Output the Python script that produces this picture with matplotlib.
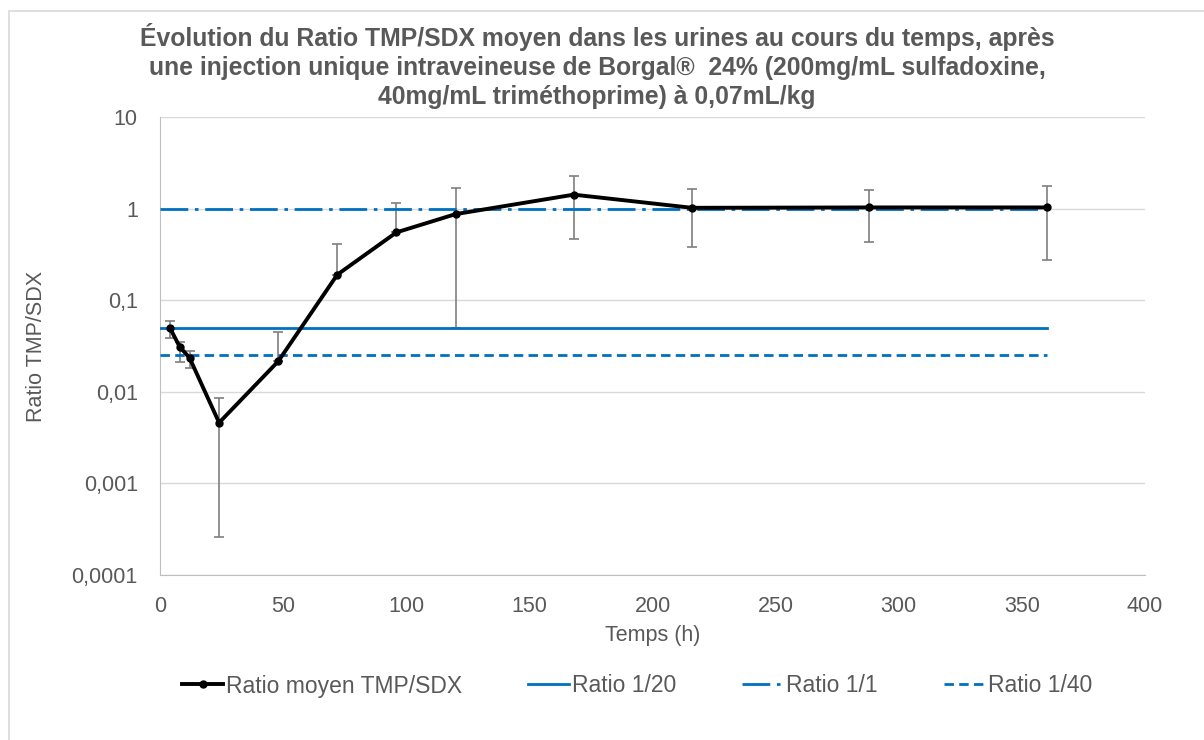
import numpy as np
import matplotlib.pyplot as plt
from matplotlib.patches import Rectangle
from matplotlib.ticker import FixedLocator, NullLocator

plt.rcParams['font.family'] = ['Liberation Sans', 'DejaVu Sans']

# mean TMP/SDX ratio in urine over time, with lower / upper error bounds
temps = [4, 8, 12, 24, 48, 72, 96, 120, 168, 216, 288, 360]
ratio_moyen = [0.050, 0.031, 0.0235, 0.0046, 0.0215, 0.19, 0.55, 0.87, 1.42, 1.02, 1.03, 1.03]
ratio_bas = [0.039, 0.021, 0.018, 0.00026, 0.0215, 0.19, 0.55, 0.05, 0.47, 0.385, 0.43, 0.277]
ratio_haut = [0.059, 0.035, 0.0277, 0.0086, 0.0445, 0.41, 1.15, 1.67, 2.29, 1.65, 1.6, 1.78]

# reference ratios drawn as flat lines from 0 to 360 h
ref_x = [0, 360]
ratio_1_20 = 1 / 20
ratio_1_1 = 1.0
ratio_1_40 = 1 / 40

yticks = [0.0001, 0.001, 0.01, 0.1, 1, 10]
ytick_labels = ['0,0001', '0,001', '0,01', '0,1', '1', '10']
xticks = [0, 50, 100, 150, 200, 250, 300, 350, 400]

gris = '#595959'
bleu = '#0070C0'

fig = plt.figure(figsize=(12.04, 7.40), dpi=100)
fig.patches.append(Rectangle((9 / 1204, -0.1), 1.2, 1 - 11 / 740 + 0.1,
                             transform=fig.transFigure, fill=False,
                             edgecolor='#d9d9d9', linewidth=1.2))

ax = fig.add_axes([160 / 1204, 1 - 575 / 740, (1145 - 160) / 1204, (575 - 117) / 740])

err = [np.array(ratio_moyen) - np.array(ratio_bas), np.array(ratio_haut) - np.array(ratio_moyen)]
ax.errorbar(temps, ratio_moyen, yerr=err, fmt='none', ecolor='#7f7f7f',
            elinewidth=1.2, capsize=3.5, capthick=1.2, zorder=3)
ax.plot(temps, ratio_moyen, color='black', lw=2.8, marker='o', ms=5,
        label='Ratio moyen TMP/SDX', zorder=5)
ax.plot(ref_x, [ratio_1_20] * 2, color=bleu, lw=2, label='Ratio 1/20', zorder=4)
ax.plot(ref_x, [ratio_1_1] * 2, color=bleu, lw=2, dashes=(10, 2.4, 1.3, 2.4),
        label='Ratio 1/1', zorder=4)
ax.plot(ref_x, [ratio_1_40] * 2, color=bleu, lw=2, dashes=(3.4, 1.9),
        label='Ratio 1/40', zorder=4)

ax.set_yscale('log')
ax.set_ylim(0.0001, 10)
ax.set_xlim(0, 400)
ax.yaxis.set_major_locator(FixedLocator(yticks))
ax.yaxis.set_minor_locator(NullLocator())
ax.set_yticklabels(ytick_labels)
ax.set_xticks(xticks)
ax.grid(axis='y', color='#d9d9d9', lw=1)
ax.set_axisbelow(True)
for s in ['top', 'right']:
    ax.spines[s].set_visible(False)
for s in ['left', 'bottom']:
    ax.spines[s].set_color('#bfbfbf')
ax.tick_params(axis='both', labelsize=15.5, colors=gris, length=0)
ax.tick_params(axis='x', pad=15)
ax.tick_params(axis='y', pad=16)

ax.set_xlabel('Temps (h)', fontsize=15.5, color=gris, labelpad=6)
ax.set_ylabel('Ratio TMP/SDX', fontsize=15.5, color=gris, labelpad=18)

fig.text(0.496, 1 - 66 / 740,
         'Évolution du Ratio TMP/SDX moyen dans les urines au cours du temps, après\n'
         'une injection unique intraveineuse de Borgal®  24% (200mg/mL sulfadoxine,\n'
         '40mg/mL triméthoprime) à 0,07mL/kg',
         ha='center', va='center', fontsize=17.8, fontweight='bold', color=gris,
         linespacing=1.26)

leg = ax.legend(loc='center', bbox_to_anchor=(0.529, 1 - 686 / 740), bbox_transform=fig.transFigure,
                ncol=4, frameon=False, fontsize=16.5, handlelength=1.8, handletextpad=0.1,
                columnspacing=2.9)
for t in leg.get_texts():
    t.set_color(gris)

fig.savefig('out.png', dpi=100)
